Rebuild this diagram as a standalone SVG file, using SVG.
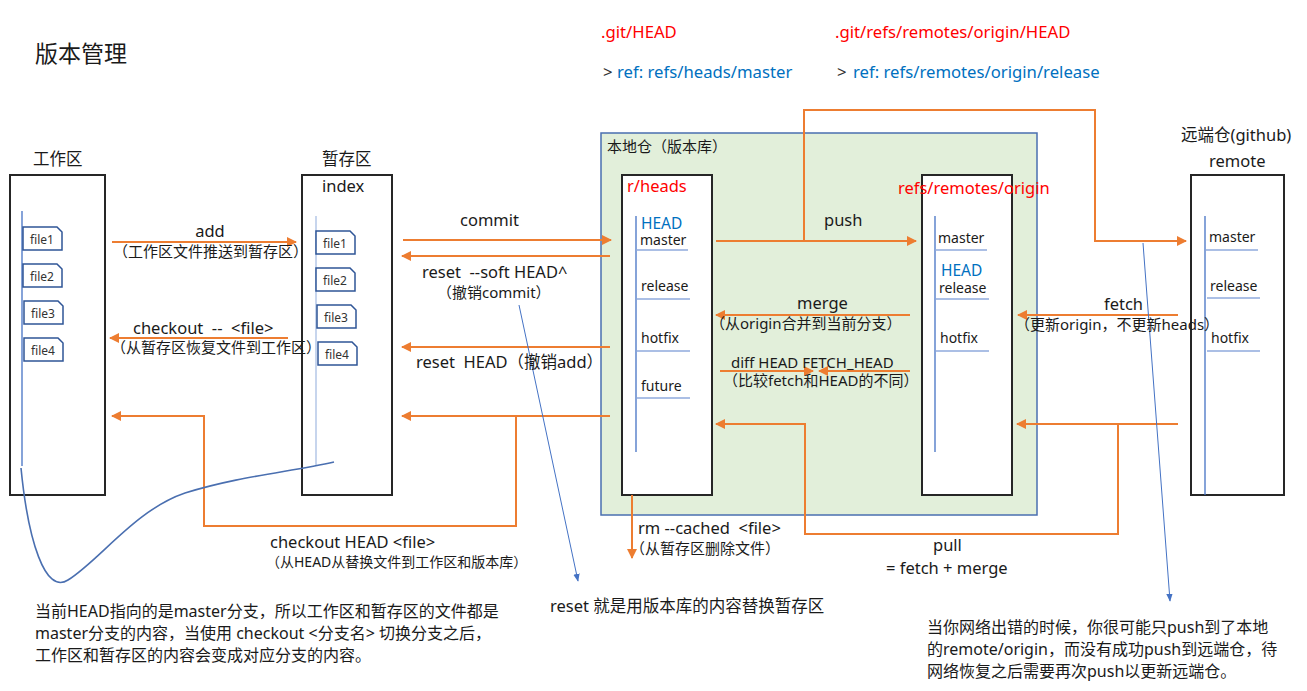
<svg xmlns="http://www.w3.org/2000/svg" xmlns:xlink="http://www.w3.org/1999/xlink" width="1307" height="691" viewBox="0 0 1307 691">
<style>
text{font-family:"Noto Sans","Noto Sans CJK SC",sans-serif;fill:#1a1a1a;}
.t16{font-size:16.5px}
.top{font-size:16.7px}
.t15{font-size:15px}
.t14{font-size:14px}
.sub{font-size:15px}
.red{fill:#FF0000}
.blue{fill:#0070C0}
.hd{font-size:15.5px}
.box{fill:#fff;stroke:#262626;stroke-width:2}
.vl{stroke:#4472C4;stroke-width:1.3}
.ul{stroke:#8FAADC;stroke-width:1.5}
.file{fill:#fff;stroke:#2F5597;stroke-width:1.5}
.ft{font-size:12px;fill:#333}
.ar{fill:none;stroke:#ED7D31;stroke-width:2}
.bl{fill:none;stroke:#4472C4;stroke-width:1}
.note{font-size:16px}
</style>
<defs>
<marker id="ah" viewBox="0 0 10 10" refX="9" refY="5" markerWidth="5" markerHeight="5" orient="auto" markerUnits="strokeWidth"><path d="M0,0 L10,5 L0,10 Z" fill="#ED7D31"/></marker>
<marker id="bh" viewBox="0 0 10 10" refX="9" refY="5" markerWidth="8" markerHeight="8" orient="auto" markerUnits="strokeWidth"><path d="M0,1 L10,5 L0,9 Z" fill="#4472C4"/></marker>
<path id="fileShape" d="M0,0 H34 L39,5 V23 H0 Z"/>
</defs>
<rect width="1307" height="691" fill="#fff"/>

<text x="35" y="62" style="font-size:23px">版本管理</text>

<g id="head-info">
<text x="601" y="38" class="top red">.git/HEAD</text>
<text x="603" y="78" class="top" style="fill:#333">&gt;</text>
<text x="617" y="78" class="top blue">ref: refs/heads/master</text>
<text x="835" y="38" class="top red">.git/refs/remotes/origin/HEAD</text>
<text x="837" y="78" class="top" style="fill:#333">&gt;</text>
<text x="853" y="78" class="top blue">ref: refs/remotes/origin/release</text>
</g>

<g id="local-repo">
<rect x="601" y="133" width="436" height="382" fill="#E2EFDA" stroke="#4A6FB0" stroke-width="1.5"/>
<text x="607" y="152" class="t15">本地仓（版本库）</text>
</g>

<g id="workspace">
<text x="33" y="165" class="t16">工作区</text>
<rect x="10" y="175" width="95" height="320" class="box"/>
<line x1="22" y1="211" x2="22" y2="466" class="vl"/>
<use xlink:href="#fileShape" x="23" y="227" class="file"/>
<text x="30" y="244" class="ft">file1</text>
<use xlink:href="#fileShape" x="23" y="264" class="file"/>
<text x="30" y="281" class="ft">file2</text>
<use xlink:href="#fileShape" x="24" y="301" class="file"/>
<text x="31" y="318" class="ft">file3</text>
<use xlink:href="#fileShape" x="24" y="338" class="file"/>
<text x="31" y="355" class="ft">file4</text>
</g>

<g id="index">
<text x="322" y="165" class="t16">暂存区</text>
<rect x="302" y="175" width="90" height="320" class="box"/>
<text x="322" y="192" class="t16">index</text>
<line x1="316" y1="216" x2="316" y2="465" stroke="#B4C7E7" stroke-width="1.5"/>
<use xlink:href="#fileShape" x="316" y="231" class="file"/>
<text x="323" y="248" class="ft">file1</text>
<use xlink:href="#fileShape" x="316" y="268" class="file"/>
<text x="323" y="285" class="ft">file2</text>
<use xlink:href="#fileShape" x="317" y="305" class="file"/>
<text x="324" y="322" class="ft">file3</text>
<use xlink:href="#fileShape" x="318" y="342" class="file"/>
<text x="325" y="359" class="ft">file4</text>
</g>

<g id="heads">
<rect x="622" y="175" width="90" height="320" class="box"/>
<text x="627" y="192" class="t16 red">r/heads</text>
<line x1="636" y1="216" x2="636" y2="452" class="vl"/>
<text x="641" y="229" class="blue hd">HEAD</text>
<text x="640" y="245" class="t14">master</text>
<line x1="636" y1="250" x2="688" y2="250" class="ul"/>
<text x="641" y="291" class="t14">release</text>
<line x1="637" y1="299" x2="690" y2="299" class="ul"/>
<text x="641" y="343" class="t14">hotfix</text>
<line x1="637" y1="351" x2="690" y2="351" class="ul"/>
<text x="641" y="391" class="t14">future</text>
<line x1="637" y1="398" x2="690" y2="398" class="ul"/>
</g>

<g id="remotes-origin">
<rect x="922" y="175" width="90" height="320" class="box"/>
<text x="898" y="194" class="t16 red">refs/remotes/origin</text>
<line x1="935" y1="216" x2="935" y2="452" class="vl"/>
<text x="938" y="243" class="t14">master</text>
<line x1="935" y1="250" x2="987" y2="250" class="ul"/>
<text x="941" y="276" class="blue hd">HEAD</text>
<text x="939" y="293" class="t14">release</text>
<line x1="936" y1="299" x2="989" y2="299" class="ul"/>
<text x="940" y="343" class="t14">hotfix</text>
<line x1="936" y1="351" x2="989" y2="351" class="ul"/>
</g>

<g id="remote">
<text x="1181" y="141" class="t16">远端仓(github)</text>
<text x="1209" y="167" class="t16">remote</text>
<rect x="1191" y="175" width="93" height="320" class="box"/>
<line x1="1205" y1="216" x2="1205" y2="495" class="vl"/>
<text x="1209" y="242" class="t14">master</text>
<line x1="1206" y1="250" x2="1258" y2="250" class="ul"/>
<text x="1210" y="291" class="t14">release</text>
<line x1="1207" y1="298" x2="1260" y2="298" class="ul"/>
<text x="1211" y="343" class="t14">hotfix</text>
<line x1="1207" y1="351" x2="1260" y2="351" class="ul"/>
</g>

<g id="connectors">
<path d="M112,242 H296" class="ar" marker-end="url(#ah)"/>
<path d="M288,338 H110" class="ar" marker-end="url(#ah)"/>
<path d="M403,240 H611" class="ar" marker-end="url(#ah)"/>
<path d="M610,256 H402" class="ar" marker-end="url(#ah)"/>
<path d="M610,347 H402" class="ar" marker-end="url(#ah)"/>
<path d="M610,416 H402" class="ar" marker-end="url(#ah)"/>
<path d="M516,416 V526 H204 V416 H112" class="ar" marker-end="url(#ah)"/>
<path d="M632,495 V558" class="ar" marker-end="url(#ah)"/>
<path d="M716,241 H916" class="ar" marker-end="url(#ah)"/>
<path d="M804,241 V110 H1095 V241 H1186" class="ar" marker-end="url(#ah)"/>
<path d="M910,315 H716" class="ar" marker-end="url(#ah)"/>
<path d="M720,371 H813" class="ar" marker-end="url(#ah)"/>
<path d="M910,371 H819" class="ar" marker-end="url(#ah)"/>
<path d="M1178,315 H1018" class="ar" marker-end="url(#ah)"/>
<path d="M1178,424 H1017" class="ar" marker-end="url(#ah)"/>
<path d="M1118,424 V534 H805 V424 H716" class="ar" marker-end="url(#ah)"/>
<path d="M519,305 L578,581" class="bl" marker-end="url(#bh)"/>
<path d="M1143,243 L1170,601" class="bl" marker-end="url(#bh)"/>
<path d="M21,468 C28,540 45,595 68,580 C100,560 135,510 185,493 C240,476 290,472 334,462" fill="none" stroke="#4A6FB0" stroke-width="1.6"/>
</g>

<g id="labels">
<text x="210" y="237" class="t16" text-anchor="middle">add</text>
<text x="113" y="257" class="sub">（工作区文件推送到暂存区）</text>
<text x="133" y="334" class="t16">checkout&#160; --&#160; &lt;file&gt;</text>
<text x="111" y="353" class="sub">（从暂存区恢复文件到工作区）</text>
<text x="460" y="226" class="t16">commit</text>
<text x="422" y="278" class="t16">reset&#160; --soft HEAD^</text>
<text x="437" y="298" class="sub">（撤销commit）</text>
<text x="416" y="368" class="t16">reset&#160; HEAD（撤销add）</text>
<text x="270" y="548" class="t16">checkout HEAD &lt;file&gt;</text>
<text x="266" y="567" class="t14">（从HEAD从替换文件到工作区和版本库）</text>
<text x="638" y="534" class="t16">rm --cached&#160; &lt;file&gt;</text>
<text x="630" y="554" class="sub">（从暂存区删除文件）</text>
<text x="824" y="226" class="t16">push</text>
<text x="797" y="309" class="t16">merge</text>
<text x="710" y="329" class="sub">（从origin合并到当前分支）</text>
<text x="731" y="368" class="sub">diff HEAD FETCH_HEAD</text>
<text x="723" y="386" class="sub">（比较fetch和HEAD的不同）</text>
<text x="1104" y="310" class="t16">fetch</text>
<text x="1015" y="330" class="sub">（更新origin，不更新heads）</text>
<text x="933" y="551" class="t16">pull</text>
<text x="886" y="574" class="t16">= fetch + merge</text>
</g>

<g id="notes">
<text x="550" y="612" class="t16">reset 就是用版本库的内容替换暂存区</text>
<text x="35" y="617" class="note">当前HEAD指向的是master分支，所以工作区和暂存区的文件都是</text>
<text x="35" y="639" class="note">master分支的内容，当使用 checkout &lt;分支名&gt; 切换分支之后，</text>
<text x="35" y="661" class="note">工作区和暂存区的内容会变成对应分支的内容。</text>
<text x="927" y="633" class="note">当你网络出错的时候，你很可能只push到了本地</text>
<text x="927" y="655" class="note">的remote/origin，而没有成功push到远端仓，待</text>
<text x="927" y="677" class="note">网络恢复之后需要再次push以更新远端仓。</text>
</g>
</svg>
